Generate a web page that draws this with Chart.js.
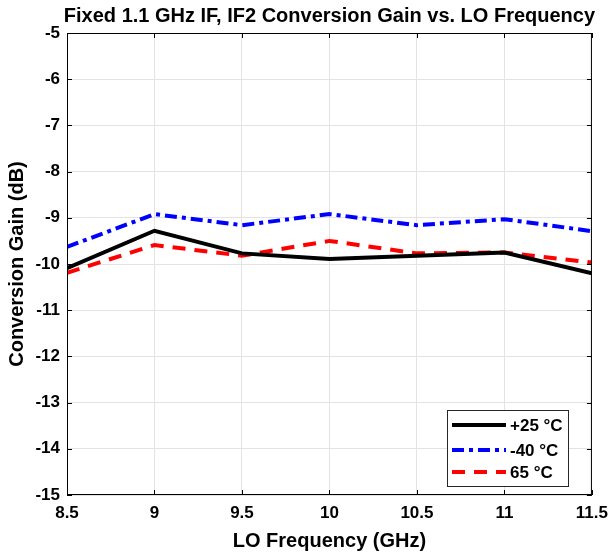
<!DOCTYPE html>
<html>
<head>
<meta charset="utf-8">
<script src="https://cdn.jsdelivr.net/npm/chart.js@4/dist/chart.umd.min.js"></script>
<style>
  html, body { margin: 0; padding: 0; background: #fff; }
  #wrap { width: 616px; height: 553px; }
</style>
</head>
<body>
<div id="wrap"><canvas id="gainChart" width="616" height="553"></canvas></div>
<script>
// LO frequency (GHz)
const loFreq = [8.5, 9, 9.5, 10, 10.5, 11, 11.5];
// conversion gain (dB) per temperature
const gain25 = [-10.09, -9.28, -9.77, -9.89, -9.82, -9.75, -10.2];
const gainM40 = [-9.63, -8.92, -9.16, -8.92, -9.16, -9.03, -9.29];
const gain65 = [-10.19, -9.59, -9.82, -9.5, -9.77, -9.75, -9.97];
const seriesNames = ['+25 °C', '-40 °C', '65 °C'];

const titleText = 'Fixed 1.1 GHz IF, IF2 Conversion Gain vs. LO Frequency';
const fontFam = '"Liberation Sans", Arial, Helvetica, sans-serif';

function toPoints(ys) {
    return loFreq.map((x, i) => ({x: x, y: ys[i]}));
}

// titulo, marco, marcas hacia dentro y leyenda al estilo MATLAB
const matlabPlugin = {
    id: 'matlab',
    afterDraw(chart) {
        const ctx = chart.ctx;
        const a = chart.chartArea;
        const xs = chart.scales.x, ys = chart.scales.y;
        ctx.save();

        ctx.fillStyle = '#000';
        ctx.font = 'bold 20px ' + fontFam;
        ctx.textAlign = 'center';
        ctx.textBaseline = 'middle';
        ctx.fillText(titleText, (a.left + a.right) / 2, 16);

        ctx.strokeStyle = '#000';
        ctx.lineWidth = 1;
        ctx.strokeRect(a.left + 0.5, a.top + 0.5, a.right - a.left - 1, a.bottom - a.top - 1);

        ctx.beginPath();
        xs.ticks.forEach(t => {
            const px = Math.round(xs.getPixelForValue(t.value)) + 0.5;
            ctx.moveTo(px, a.bottom); ctx.lineTo(px, a.bottom - 5);
            ctx.moveTo(px, a.top); ctx.lineTo(px, a.top + 5);
        });
        ys.ticks.forEach(t => {
            const py = Math.round(ys.getPixelForValue(t.value)) + 0.5;
            ctx.moveTo(a.left, py); ctx.lineTo(a.left + 5, py);
            ctx.moveTo(a.right, py); ctx.lineTo(a.right - 5, py);
        });
        ctx.stroke();

        // leyenda
        const bx = 447, by = 410, bw = 121, bh = 76;
        ctx.fillStyle = '#fff';
        ctx.fillRect(bx, by, bw, bh);
        ctx.strokeStyle = '#262626';
        ctx.strokeRect(bx + 0.5, by + 0.5, bw, bh);
        const rows = [425, 450, 472];
        chart.data.datasets.forEach((ds, i) => {
            ctx.beginPath();
            ctx.strokeStyle = ds.borderColor;
            ctx.lineWidth = ds.borderWidth;
            ctx.setLineDash(ds.borderDash || []);
            ctx.moveTo(452, rows[i]);
            ctx.lineTo(506, rows[i]);
            ctx.stroke();
            ctx.setLineDash([]);
            ctx.fillStyle = '#000';
            ctx.font = 'bold 17px ' + fontFam;
            ctx.textAlign = 'left';
            ctx.fillText(ds.label, 510, rows[i] + 1);
        });
        ctx.restore();
    }
};

new Chart(document.getElementById('gainChart').getContext('2d'), {
    type: 'line',
    data: {
        datasets: [{
            label: seriesNames[0],
            data: toPoints(gain25),
            borderColor: '#000000',
            borderWidth: 4,
            pointRadius: 0,
            tension: 0
        }, {
            label: seriesNames[1],
            data: toPoints(gainM40),
            borderColor: '#0000ff',
            borderWidth: 4,
            borderDash: [12, 5, 4, 5],
            pointRadius: 0,
            tension: 0
        }, {
            label: seriesNames[2],
            data: toPoints(gain65),
            borderColor: '#ff0000',
            borderWidth: 4,
            borderDash: [13, 9],
            pointRadius: 0,
            tension: 0
        }]
    },
    options: {
        responsive: false,
        animation: false,
        layout: { padding: { left: 0, right: 19, top: 33, bottom: 0 } },
        plugins: {
            legend: { display: false },
            title: { display: false },
            tooltip: { enabled: false }
        },
        scales: {
            x: {
                type: 'linear',
                min: 8.5,
                max: 11.5,
                ticks: {
                    stepSize: 0.5,
                    padding: 8,
                    color: '#000',
                    font: { family: fontFam, size: 17, weight: 'bold' },
                    callback: v => String(v)
                },
                grid: { color: '#e3e3e3', drawTicks: false },
                border: { display: false },
                title: {
                    display: true,
                    text: 'LO Frequency (GHz)',
                    color: '#000',
                    padding: { top: 0, bottom: 0 },
                    font: { family: fontFam, size: 20, weight: 'bold' }
                },
                afterFit: s => { s.height = 58; }
            },
            y: {
                min: -15,
                max: -5,
                ticks: {
                    stepSize: 1,
                    padding: 7,
                    color: '#000',
                    font: { family: fontFam, size: 17, weight: 'bold' }
                },
                grid: { color: '#e3e3e3', drawTicks: false },
                border: { display: false },
                title: {
                    display: true,
                    text: 'Conversion Gain (dB)',
                    color: '#000',
                    padding: { top: 5, bottom: 0 },
                    font: { family: fontFam, size: 20, weight: 'bold' }
                },
                afterFit: s => { s.width = 67; }
            }
        }
    },
    plugins: [matlabPlugin]
});
</script>
</body>
</html>
